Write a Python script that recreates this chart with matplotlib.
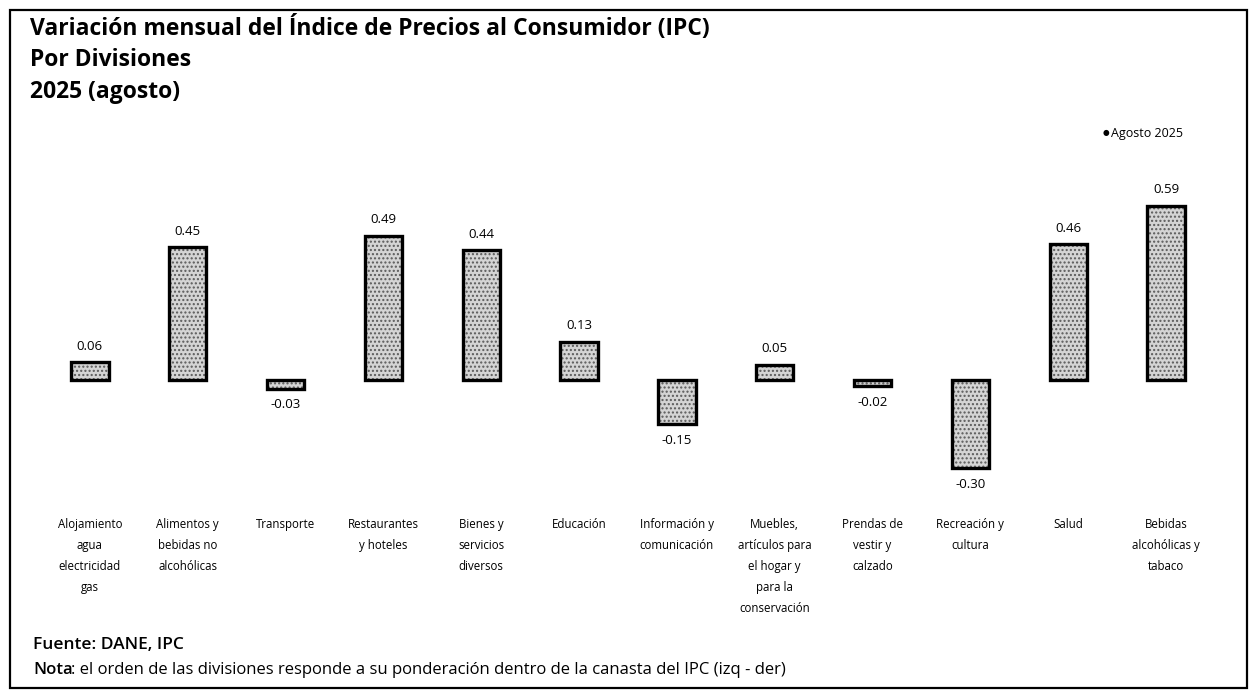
import matplotlib
matplotlib.use("Agg")
import matplotlib.pyplot as plt
from matplotlib.patches import Rectangle

plt.rcParams['font.family'] = ['Open Sans', 'DejaVu Sans']

categories = [
    "Alojamiento\nagua\nelectricidad\ngas",
    "Alimentos y\nbebidas no\nalcohólicas",
    "Transporte",
    "Restaurantes\ny hoteles",
    "Bienes y\nservicios\ndiversos",
    "Educación",
    "Información y\ncomunicación",
    "Muebles,\nartículos para\nel hogar y\npara la\nconservación",
    "Prendas de\nvestir y\ncalzado",
    "Recreación y\ncultura",
    "Salud",
    "Bebidas\nalcohólicas y\ntabaco",
]
values = [0.06, 0.45, -0.03, 0.49, 0.44, 0.13, -0.15, 0.05, -0.02, -0.30, 0.46, 0.59]
value_labels = ["0.06", "0.45", "-0.03", "0.49", "0.44", "0.13", "-0.15", "0.05", "-0.02", "-0.30", "0.46", "0.59"]
series_name = "Agosto 2025"

W, H = 1254, 696
fig = plt.figure(figsize=(W / 100, H / 100), dpi=100)
fig.patch.set_facecolor("white")

# outer frame
fig.add_artist(Rectangle((10 / W, 1 - 688 / H), (1247 - 10) / W, (688 - 10) / H,
                         transform=fig.transFigure, fill=False, edgecolor="black", lw=1.6))

ax = fig.add_axes([41 / W, 1 - 483 / H, (1215 - 41) / W, (483 - 159) / H])
x = list(range(len(categories)))
ax.bar(x, values, width=0.38, color="#d4d4d4", edgecolor="#5a5a5a", hatch="....", linewidth=0)
ax.bar(x, values, width=0.38, fill=False, edgecolor="black", linewidth=2.4)

for xi, v, lab in zip(x, values, value_labels):
    if v >= 0:
        ax.annotate(lab, (xi, v), xytext=(0, 7), textcoords="offset points",
                    ha="center", va="bottom", fontsize=9.5)
    else:
        ax.annotate(lab, (xi, v), xytext=(0, -7), textcoords="offset points",
                    ha="center", va="top", fontsize=9.5)

ax.set_xlim(-0.5, len(categories) - 0.5)
ax.set_ylim(-0.35, 0.75)
ax.set_xticks(x)
ax.set_xticklabels(categories, fontsize=8.3, linespacing=1.8)
ax.tick_params(axis="x", length=0, pad=25)
ax.set_yticks([])
for s in ax.spines.values():
    s.set_visible(False)

# legend
fig.text(1103 / W, 1 - 133 / H, "●", fontsize=5.5, ha="left", va="center")
fig.text(1111 / W, 1 - 133 / H, series_name, fontsize=9, ha="left", va="center")

# titles
fig.text(30 / W, 1 - 28 / H, "Variación mensual del Índice de Precios al Consumidor (IPC)",
         fontsize=16.5, fontweight="bold", ha="left", va="center")
fig.text(30 / W, 1 - 60 / H, "Por Divisiones", fontsize=16.5, fontweight="bold", ha="left", va="center")
fig.text(30 / W, 1 - 92 / H, "2025 (agosto)", fontsize=16.5, fontweight="bold", ha="left", va="center")

# footer
fig.text(33 / W, 1 - 645 / H, "Fuente: DANE, IPC", fontsize=12.5, fontweight="semibold", ha="left", va="center")
fig.text(33 / W, 1 - 670 / H, "Nota", fontsize=12, fontweight="semibold", ha="left", va="center")
fig.text(71 / W, 1 - 670 / H,
         ": el orden de las divisiones responde a su ponderación dentro de la canasta del IPC (izq - der)",
         fontsize=12, ha="left", va="center")

fig.savefig("out.png", dpi=100, facecolor="white")
